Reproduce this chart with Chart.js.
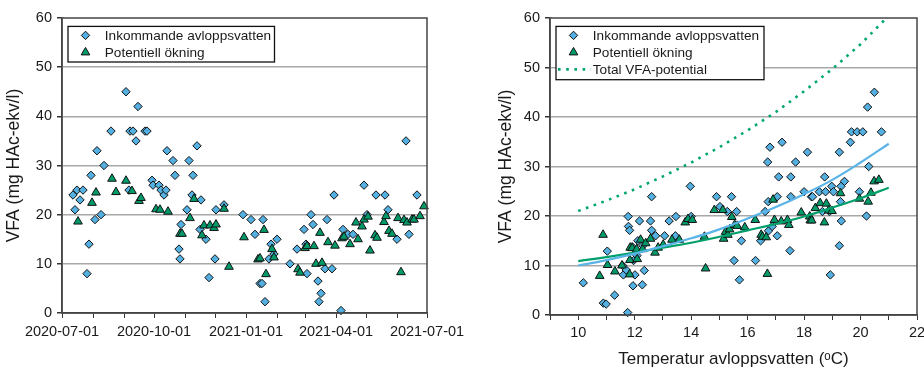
<!DOCTYPE html>
<html>
<head>
<meta charset="utf-8">
<script src="https://cdn.jsdelivr.net/npm/chart.js@4.4.0/dist/chart.umd.min.js"></script>
<style>
html, body { margin: 0; padding: 0; background: #fff; overflow: hidden; width: 924px; height: 371px; }
#vanster { position: absolute; left: 0; top: 0; }
#hoger { position: absolute; left: 470px; top: 0; }
</style>
</head>
<body>
<canvas id="vanster" width="470" height="371"></canvas>
<canvas id="hoger" width="470" height="371"></canvas>
<script>
// Vänster diagram: dagar efter 2020-07-01
const inkDagar = [11,13,15,18,21,25,27,29,33,35,39,42,49,64,67,68,71,74,76,83,85,90,91,97,99,102,104,105,111,113,117,118,119,125,127,130,131,135,138,139,144,147,153,154,162,181,189,193,198,200,201,203,207,209,212,215,228,235,242,244,245,249,251,256,257,259,263,265,270,272,279,281,286,291,302,305,314,323,326,335,344,347,355];
const inkVfa = [24,21,25,23,25,8,14,28,19,33,20,30,37,45,25,37,37,35,42,37,37,27,26,26,25,24,25,33,31,28,13,11,18,21,31,24,28,34,17,23,15,7.2,11,21,22,20,19,16,6,6,19,2.3,11,14,12,15,10,13,17,14,8,20,18,6.5,2.3,4,9,19,9,24,0.5,17,16,16,26,20,24,24,21,15,35,16,24];
const potDagar = [16,30,34,50,54,64,70,77,79,94,98,106,118,120,128,132,140,142,148,152,154,162,167,182,196,198,202,204,210,212,236,238,243,245,252,254,258,260,266,273,280,282,288,294,296,300,302,306,308,313,315,322,324,327,330,336,339,342,345,350,352,358,362];
const potVfa = [18.6,22.4,24.5,27.3,24.6,26.9,24.8,22.8,23.4,21.1,21,20.6,16.1,16.1,19.3,23.2,15.8,17.8,17.8,17.3,18,21.2,9.4,15.4,10.9,11.1,16.9,7.9,13,11.3,8.9,8.2,13.2,13.6,13.6,10,16.3,10.2,14.4,13.7,15.2,15.5,14,18.4,15,17.6,19,19.6,12.7,15.8,15.3,18.5,19.7,16.7,16.1,19.3,8.3,18.9,18.4,19,19,19.7,21.7];
const manadDagar = [0,31,62,92,123,153,184,215,243,274,304,335,365];
const kvartalDagar = [0,92,184,274,365];
const kvartalEtiketter = ['2020-07-01','2020-10-01','2021-01-01','2021-04-01','2021-07-01'];

// Höger diagram: temperatur (°C)
const tempInk = [10.18,10.89,10.99,11.03,11.29,11.57,11.6,11.7,11.75,11.77,11.78,11.82,11.91,11.94,11.96,12.01,12.08,12.11,12.17,12.27,12.29,12.34,12.56,12.6,12.6,12.74,13.06,13.22,13.44,13.46,13.97,14,14.9,15.02,15.28,15.43,15.52,15.61,15.71,15.78,16.28,16.46,16.62,16.71,16.73,16.74,16.79,16.87,17.05,17.05,17.1,17.22,17.5,17.53,17.53,17.7,18,18.12,18.26,18.3,18.54,18.65,18.73,18.76,18.9,18.93,18.98,19.04,19.25,19.25,19.29,19.31,19.32,19.43,19.64,19.68,19.88,19.96,20.08,20.21,20.25,20.29,20.49,20.74];
const tempInkVfa = [6.5,2.4,2.2,12.9,4,10,8.1,9.1,0.5,19.9,17.9,17.1,13.8,5.9,11,8.1,12,15,19,6.1,14,9,19,23.9,17.1,16,16,19,16,19.9,26,19.9,23.9,21.9,20.9,23.9,11,20.9,7.1,15,11,15,20.9,30.9,22.9,17,33.9,17.9,16,23.9,27.9,34.9,13,23.9,27.9,30.9,24.9,32.9,23.9,23.9,24.9,20.9,27.9,24.9,20.9,8.1,26,24.9,14,32.9,22.9,26,19,27,34.9,37,37,24.9,37,20,42,30,45,37];
const tempPot = [10.76,10.88,11.04,11.3,11.55,11.82,11.83,11.84,11.91,12.07,12.09,12.21,12.28,12.39,12.56,12.72,12.83,13.01,13.32,13.58,13.79,13.89,14.04,14.47,14.51,14.82,15.12,15.15,15.22,15.3,15.36,15.44,15.54,15.63,15.9,16.27,16.48,16.53,16.66,16.7,16.9,16.95,17.19,17.41,17.46,17.9,18.2,18.22,18.27,18.4,18.57,18.72,18.79,18.87,18.99,19.29,19.96,20.27,20.37,20.48,20.65];
const tempPotVfa = [7.9,16.2,10.1,8.8,10,8.2,11.1,13.6,13.5,13.3,11.3,15.2,13.3,14.5,15.4,12.6,13.6,14.2,15.2,15.2,18.7,19.4,19.2,15.8,9.4,21.2,21.2,15.4,16.8,16.2,17.3,19.8,18.2,18,17.7,19.2,16.2,15.8,15.7,8.3,23.3,19.2,18.9,19.2,18.2,20.7,19.9,19.1,19.1,21.6,22.6,18.7,22.5,21.1,21,24.6,23.5,22.9,24.7,27,27.3];
const kurvT = [10,11,12,13,14,15,16,17,18,19,20,21];
const kurvInk = [10,11.1,12.4,13.9,15.5,17.3,19.5,21.8,24.4,27.3,30.8,34.6];
const kurvPot = [10.9,11.7,12.6,13.6,14.6,15.8,17.1,18.4,19.9,21.7,23.6,25.7];
const totT = [10,11,12,13,14,15,16,17,18,19,20,20.85];
const totVfa = [21,23.1,25.4,28,30.8,33.9,37.3,41,45.2,49.7,54.7,59.6];

const yTitel = 'VFA (mg HAc-ekv/l)';
const xTitel = 'Temperatur avloppsvatten (\u1D52C)';

const BLA = '#55b0e2';
const GRON = '#009a6a';
const TEXT = '#1a1a1a';

Chart.defaults.font.family = '"Liberation Sans", Arial, sans-serif';
Chart.defaults.color = TEXT;

function par(xs, ys) {
    return xs.map((x, i) => ({ x: x, y: ys[i] }));
}

function ritaForm(ctx, stil, x, y, r) {
    ctx.beginPath();
    if (stil === 'triangle') {
        ctx.moveTo(x, y - r);
        ctx.lineTo(x + r * 0.866, y + r * 0.5);
        ctx.lineTo(x - r * 0.866, y + r * 0.5);
    } else {
        ctx.moveTo(x - r, y);
        ctx.lineTo(x, y - r);
        ctx.lineTo(x + r, y);
        ctx.lineTo(x, y + r);
    }
    ctx.closePath();
    ctx.fill();
    ctx.stroke();
}

// ram runt diagramytan
const ramPlugin = {
    id: 'ram',
    afterDatasetsDraw(chart) {
        const a = chart.chartArea;
        const ctx = chart.ctx;
        ctx.save();
        ctx.strokeStyle = '#444';
        ctx.lineWidth = 1.5;
        ctx.strokeRect(a.left, a.top, a.right - a.left, a.bottom - a.top);
        ctx.restore();
    }
};

// legend inne i diagrammet
const rutaPlugin = {
    id: 'ruta',
    afterDraw(chart, args, opt) {
        const a = chart.chartArea;
        const ctx = chart.ctx;
        const bx = a.left + 6, by = a.top + 8.4;
        ctx.save();
        ctx.fillStyle = '#fff';
        ctx.fillRect(bx, by, opt.w, opt.h);
        ctx.strokeStyle = '#111';
        ctx.lineWidth = 1.3;
        ctx.strokeRect(bx, by, opt.w, opt.h);
        ctx.font = '13.6px "Liberation Sans", Arial, sans-serif';
        ctx.textBaseline = 'middle';
        let rad = 0;
        chart.data.datasets.forEach(ds => {
            if (!ds.label) return;
            const y = by + 9 + rad * 17;
            if (ds.showLine) {
                ctx.strokeStyle = ds.borderColor;
                ctx.lineWidth = ds.borderWidth;
                ctx.setLineDash(ds.borderDash || []);
                ctx.beginPath();
                ctx.moveTo(bx + 2, y);
                ctx.lineTo(bx + 35, y);
                ctx.stroke();
                ctx.setLineDash([]);
            } else {
                ctx.fillStyle = ds.backgroundColor;
                ctx.strokeStyle = ds.borderColor;
                ctx.lineWidth = 1;
                ritaForm(ctx, ds.pointStyle, bx + 17.5, y, ds.pointStyle === 'triangle' ? 5 : 4.2);
            }
            ctx.fillStyle = TEXT;
            ctx.fillText(ds.label, bx + 36.8, y + 0.5);
            rad++;
        });
        ctx.restore();
    }
};

function yAxel(bredd) {
    return {
        type: 'linear', min: 0, max: 60,
        ticks: { stepSize: 10, padding: 5, font: { size: 14.5 }, color: TEXT },
        grid: {
            color: c => (c.tick && c.tick.value > 0 && c.tick.value < 60) ? '#a8a8a8' : 'rgba(0,0,0,0)',
            lineWidth: 1.5, tickLength: 5, tickColor: '#333'
        },
        border: { display: true, color: '#444', width: 1.5 },
        title: { display: true, text: yTitel, font: { size: 17.5 }, color: TEXT, padding: { top: 4, bottom: 0 } },
        afterFit: s => { s.width = bredd; }
    };
}

function punkter(label, data, stil, farg, ordning) {
    return {
        label: label, data: data,
        pointStyle: stil,
        pointRadius: stil === 'triangle' ? 5 : 4.2,
        pointHoverRadius: 5,
        backgroundColor: farg,
        borderColor: '#111',
        pointBorderWidth: 1,
        borderWidth: 1,
        showLine: false,
        clip: false,
        order: ordning
    };
}

new Chart(document.getElementById('vanster'), {
    type: 'scatter',
    data: {
        datasets: [
            punkter('Inkommande avloppsvatten', par(inkDagar, inkVfa), 'rectRot', BLA, 2),
            punkter('Potentiell ökning', par(potDagar, potVfa), 'triangle', GRON, 1)
        ]
    },
    options: {
        responsive: false,
        animation: false,
        events: [],
        layout: { padding: { left: 0, top: 18, right: 43, bottom: 0 } },
        plugins: { legend: { display: false }, tooltip: { enabled: false }, ruta: { w: 206.5, h: 35.6 } },
        scales: {
            x: {
                type: 'linear', min: 0, max: 365,
                afterBuildTicks: s => { s.ticks = manadDagar.map(v => ({ value: v })); },
                ticks: {
                    autoSkip: false, maxRotation: 0, padding: 5, font: { size: 14.5 }, color: TEXT,
                    callback: v => { const i = kvartalDagar.indexOf(v); return i >= 0 ? kvartalEtiketter[i] : ''; }
                },
                grid: { drawOnChartArea: false, tickLength: 5, tickColor: '#333' },
                border: { display: true, color: '#444', width: 1.5 },
                afterFit: s => { s.height = 58; }
            },
            y: yAxel(62)
        }
    },
    plugins: [ramPlugin, rutaPlugin]
});

new Chart(document.getElementById('hoger'), {
    type: 'scatter',
    data: {
        datasets: [
            punkter('Inkommande avloppsvatten', par(tempInk, tempInkVfa), 'rectRot', BLA, 4),
            punkter('Potentiell ökning', par(tempPot, tempPotVfa), 'triangle', GRON, 3),
            {
                label: 'Total VFA-potential', data: par(totT, totVfa), showLine: true,
                borderColor: '#00a672', borderWidth: 2.6, borderDash: [2.6, 5.6],
                pointRadius: 0, order: 0
            },
            { data: par(kurvT, kurvInk), showLine: true, borderColor: '#5ab4e8', borderWidth: 2.2, pointRadius: 0, tension: 0.4, order: 1 },
            { data: par(kurvT, kurvPot), showLine: true, borderColor: '#00a06c', borderWidth: 2.2, pointRadius: 0, tension: 0.4, order: 1 }
        ]
    },
    options: {
        responsive: false,
        animation: false,
        events: [],
        layout: { padding: { left: 22, top: 18, right: 23, bottom: 0 } },
        plugins: { legend: { display: false }, tooltip: { enabled: false }, ruta: { w: 208, h: 53.3 } },
        scales: {
            x: {
                type: 'linear', min: 9, max: 22,
                ticks: {
                    stepSize: 1, autoSkip: false, maxRotation: 0, padding: 4, font: { size: 14.5 }, color: TEXT,
                    callback: v => (v % 2 === 0 ? String(v) : '')
                },
                grid: { drawOnChartArea: false, tickLength: 5, tickColor: '#333' },
                border: { display: true, color: '#444', width: 1.5 },
                title: { display: true, text: xTitel, font: { size: 17 }, color: TEXT, padding: { top: 0, bottom: 1 } },
                afterFit: s => { s.height = 56; }
            },
            y: yAxel(58)
        }
    },
    plugins: [ramPlugin, rutaPlugin]
});
</script>
</body>
</html>
